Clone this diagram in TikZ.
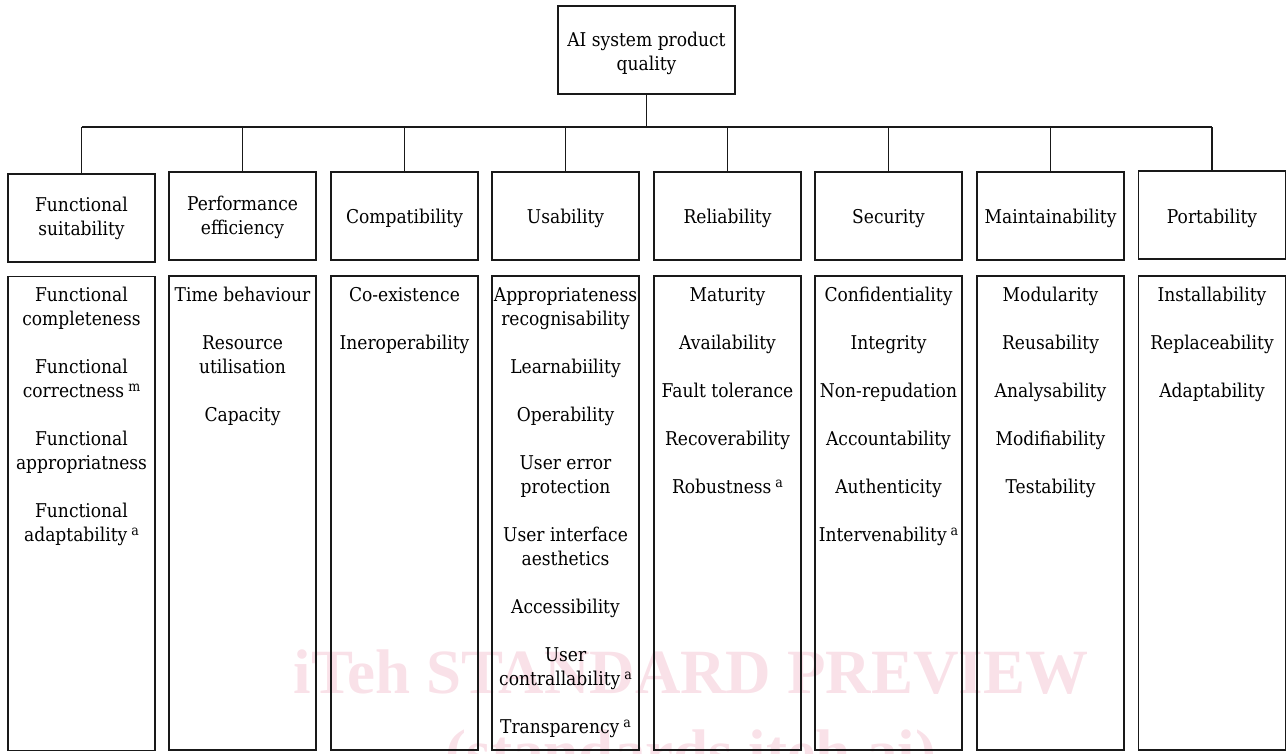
\documentclass[tikz,border=0pt]{standalone}
\usepackage{fontspec}
\setmainfont{DejaVu Serif}[FakeStretch=0.9]
\newfontfamily\wmfont{Liberation Serif}
\usetikzlibrary{calc}
\definecolor{wmpink}{RGB}{249,225,232}
\definecolor{ink}{RGB}{25,25,25}
\newcommand\supmark[1]{\hspace{4pt}{\fontsize{14}{14}\selectfont\raisebox{6pt}{#1}}}
\begin{document}
\begin{tikzpicture}[x=1pt,y=-1pt,
  txt/.style={font=\fontsize{19}{24}\selectfont, text=black},
  boxline/.style={draw=ink, line width=1.4pt},
  topbox/.style={boxline, inner sep=0pt, minimum width=177pt, minimum height=88pt},
  catbox/.style={boxline, inner sep=0pt, minimum width=147pt, minimum height=88pt},
  detbox/.style={boxline, inner sep=0pt, minimum width=147pt, minimum height=474pt},
  boxtext/.style={txt, align=center, inner sep=0pt},
  itemlist/.style={txt, align=center, inner sep=0pt, anchor=north, execute at begin node=\strut},
  wmark/.style={font=\wmfont\bfseries\fontsize{63}{78}\selectfont, text=wmpink, anchor=base, inner sep=0pt},
  link/.style={draw=ink, line width=1.4pt}]

\path[use as bounding box] (0,0) rectangle (1288,753);
\clip (0,0) rectangle (1288,753);

% watermark behind the chart
\node[wmark] (wm1) at (691,693) {iTeh STANDARD PREVIEW};
\node[wmark] (wm2) at (691,773) {(standards.iteh.ai)};

% root
\node[topbox] (top) at (646.5,50) {};
\node[boxtext] (topt) at ($(top.center)+(0,3)$) {AI system product\\quality};

% characteristics
\node[catbox] (c1) at (81.5,218)  {};
\node[catbox] (c2) at (242.5,216) {};
\node[catbox] (c3) at (404.5,216) {};
\node[catbox] (c4) at (565.5,216) {};
\node[catbox] (c5) at (727.5,216) {};
\node[catbox] (c6) at (888.5,216) {};
\node[catbox] (c7) at (1050.5,216) {};
\node[catbox] (c8) at (1212,215) {};
\node[boxtext] (c1t) at ($(c1.center)+(0,0)$) {Functional\\suitability};
\node[boxtext] (c2t) at ($(c2.center)+(0,1.5)$) {Performance\\efficiency};
\node[boxtext] (c3t) at ($(c3.center)+(0,2.5)$) {Compatibility};
\node[boxtext] (c4t) at ($(c4.center)+(0,2.5)$) {Usability};
\node[boxtext] (c5t) at ($(c5.center)+(0,2.5)$) {Reliability};
\node[boxtext] (c6t) at ($(c6.center)+(0,2.5)$) {Security};
\node[boxtext] (c7t) at ($(c7.center)+(0,2.5)$) {Maintainability};
\node[boxtext] (c8t) at ($(c8.center)+(0,3)$) {Portability};

% sub-characteristic boxes
\node[detbox] (d1) at (81.5,513.5) {};
\node[detbox] (d2) at (242.5,513) {};
\node[detbox] (d3) at (404.5,513) {};
\node[detbox] (d4) at (565.5,513) {};
\node[detbox] (d5) at (727.5,513) {};
\node[detbox] (d6) at (888.5,513) {};
\node[detbox] (d7) at (1050.5,513) {};
\node[detbox] (d8) at (1212,513) {};

% sub-characteristic lists
\node[itemlist] (l1) at (81.5,287) {Functional\\completeness\\[24pt]Functional\\correctness\supmark{m}\\[24pt]Functional\\appropriatness\\[24pt]Functional\\adaptability\supmark{a}};
\node[itemlist] (l2) at (242.5,287) {Time behaviour\\[24pt]Resource\\utilisation\\[24pt]Capacity};
\node[itemlist] (l3) at (404.5,287) {Co-existence\\[24pt]Ineroperability};
\node[itemlist] (l4) at (565.5,287) {Appropriateness\\recognisability\\[24pt]Learnabiility\\[24pt]Operability\\[24pt]User error\\protection\\[24pt]User interface\\aesthetics\\[24pt]Accessibility\\[24pt]User\\contrallability\supmark{a}\\[24pt]Transparency\supmark{a}};
\node[itemlist] (l5) at (727.5,287) {Maturity\\[24pt]Availability\\[24pt]Fault tolerance\\[24pt]Recoverability\\[24pt]Robustness\supmark{a}};
\node[itemlist] (l6) at (888.5,287) {Confidentiality\\[24pt]Integrity\\[24pt]Non-repudation\\[24pt]Accountability\\[24pt]Authenticity\\[24pt]Intervenability\supmark{a}};
\node[itemlist] (l7) at (1050.5,287) {Modularity\\[24pt]Reusability\\[24pt]Analysability\\[24pt]Modifiability\\[24pt]Testability};
\node[itemlist] (l8) at (1212,287) {Installability\\[24pt]Replaceability\\[24pt]Adaptability};

% tree connectors
\coordinate (bus) at (646.5,127);
\draw[link] (top.south) -- (top.south |- bus);
\draw[link] (c1.north |- bus) -- (c8.north |- bus);
\foreach \i in {1,...,8}
  \draw[link] (c\i.north) -- (c\i.north |- bus);
\end{tikzpicture}
\end{document}
